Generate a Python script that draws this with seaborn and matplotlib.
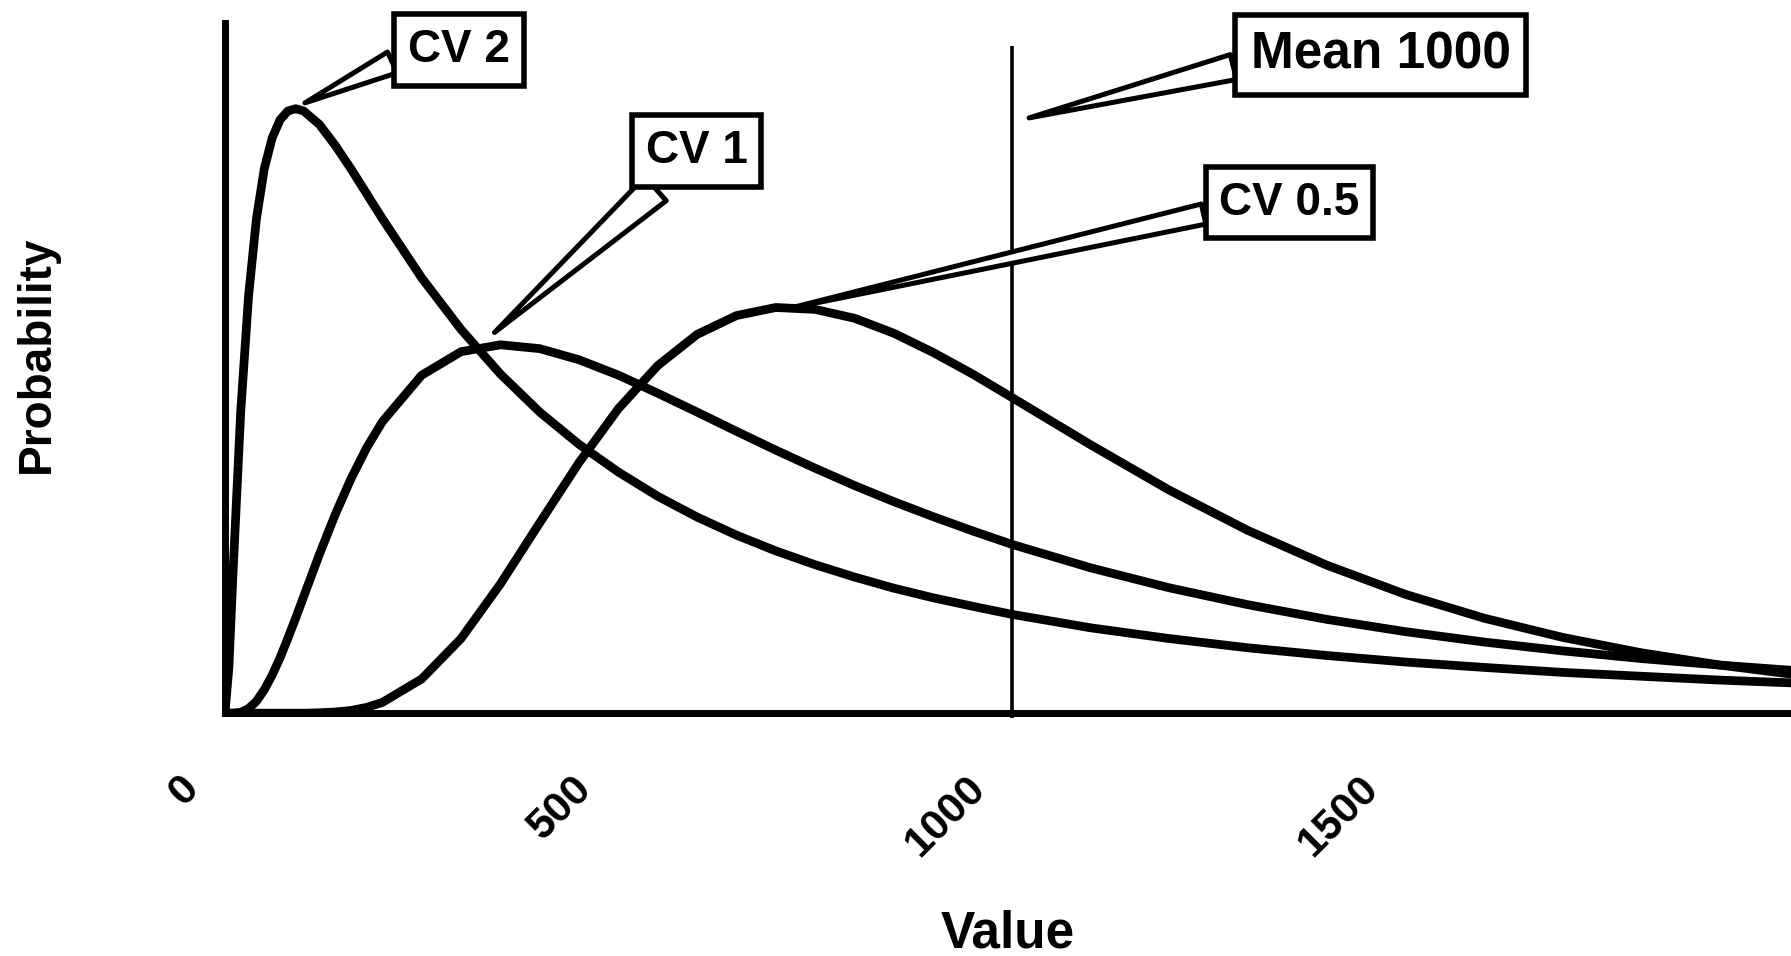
import matplotlib
matplotlib.use('Agg')
import pandas as pd
import matplotlib.pyplot as plt
import seaborn as sns
from matplotlib.transforms import ScaledTranslation

# Estilo
sns.set_theme(style='white')
plt.rcParams['font.family'] = ['Liberation Sans', 'DejaVu Sans']
plt.rcParams['font.weight'] = 'bold'
plt.rcParams['text.color'] = 'black'
plt.rcParams['axes.labelcolor'] = 'black'
plt.rcParams['xtick.color'] = 'black'

# Datos (probabilidad x 1e4)
values = [0, 5, 10, 20, 30, 40, 50, 60, 70, 80, 90, 100, 120, 140, 160, 180, 200,
          250, 300, 350, 400, 450, 500, 550, 600, 650, 700, 750, 800, 850, 900, 950,
          1000, 1100, 1200, 1300, 1400, 1500, 1600, 1700, 1800, 1900, 2000]
cv2 = [0, 1.19, 3.54, 7.83, 10.85, 12.86, 14.16, 14.96, 15.43, 15.66, 15.72, 15.66,
       15.31, 14.77, 14.16, 13.51, 12.86, 11.32, 9.98, 8.82, 7.83, 6.99, 6.27, 5.64,
       5.10, 4.63, 4.22, 3.86, 3.54, 3.25, 3.00, 2.78, 2.57, 2.22, 1.94, 1.70, 1.50,
       1.33, 1.19, 1.06, 0.96, 0.86, 0.78]
cv1 = [0, 0, 0, 0.02, 0.12, 0.31, 0.61, 0.99, 1.44, 1.95, 2.48, 3.03, 4.13, 5.16,
       6.09, 6.90, 7.58, 8.79, 9.40, 9.58, 9.48, 9.19, 8.79, 8.32, 7.83, 7.33, 6.84,
       6.37, 5.92, 5.50, 5.11, 4.74, 4.39, 3.78, 3.26, 2.82, 2.44, 2.12, 1.85, 1.62,
       1.42, 1.25, 1.10]
cv05 = [0, 0, 0, 0, 0, 0, 0, 0, 0, 0, 0, 0.00, 0.01, 0.03, 0.07, 0.15, 0.28, 0.89,
        1.94, 3.36, 4.95, 6.52, 7.92, 9.04, 9.85, 10.34, 10.55, 10.50, 10.27, 9.88,
        9.38, 8.82, 8.21, 6.98, 5.80, 4.75, 3.85, 3.09, 2.47, 1.97, 1.57, 1.25, 0.99]
cv_names = ['CV 2', 'CV 1', 'CV 0.5']
mean_value = 1000
tick_values = [0, 500, 1000, 1500]

n = len(values)
df = pd.DataFrame({
    'Value': values * 3,
    'Probability': cv2 + cv1 + cv05,
    'CV': [cv_names[0]] * n + [cv_names[1]] * n + [cv_names[2]] * n,
})

fig = plt.figure(figsize=(17.91, 9.56), dpi=100)
ax = fig.add_axes([0.1256, 0.254, 0.8744, 0.722])

sns.lineplot(data=df, x='Value', y='Probability', hue='CV', hue_order=cv_names,
             palette=['black'] * 3, linewidth=6.3, legend=False, ax=ax,
             estimator=None, sort=False)

# Linea de la media
ax.vlines(mean_value, -0.12, 17.36, colors='black', linewidth=2.6, clip_on=False)

ax.set_xlim(0, 1990)
ax.set_ylim(0, 17.95)
ax.set_yticks([])
ax.set_xticks(tick_values)
ax.set_xticklabels([str(v) for v in tick_values])
ax.tick_params(axis='x', length=0, pad=50, labelsize=31, labelcolor='black')

for side in ['top', 'right']:
    ax.spines[side].set_visible(False)
for side in ['left', 'bottom']:
    ax.spines[side].set_linewidth(5)
    ax.spines[side].set_color('black')

ax.set_xlabel('Value', fontsize=37, fontweight='bold', color='black')
ax.set_ylabel('Probability', fontsize=33, fontweight='bold', color='black')
ax.xaxis.set_label_coords(0.5, -0.285)
ax.yaxis.set_label_coords(-0.106, 0.52)

# Cajas de texto con flecha tipo cuña
def callout(text, xy, xytext, relpos, tail, size=33):
    box = dict(boxstyle='square,pad=0.3', fc='white', ec='black', lw=4)
    ax.annotate(text, xy=xy, xytext=xytext, ha='center', va='center',
                fontsize=size, fontweight='bold', color='black', bbox=box,
                arrowprops=dict(arrowstyle=f'wedge,tail_width={tail}',
                                fc='white', ec='black', lw=3.6,
                                relpos=relpos, shrinkA=0, shrinkB=0))

callout('CV 2', (101.6, 15.87), (297.5, 17.24), (0, 0.39), 0.5)
callout('CV 1', (342.5, 9.90), (599.4, 14.62), (0.27, 0), 0.7)
callout('Mean 1000', (1021.8, 15.48), (1468.8, 17.12), (0, 0.34), 0.5, size=37)
callout('CV 0.5', (715.5, 10.52), (1352.7, 13.28), (0, 0.32), 0.45)

fig.canvas.draw()
for lbl in ax.get_xticklabels():
    lbl.set_rotation(45)
    lbl.set_ha('right')
    lbl.set_va('center')
    lbl.set_rotation_mode('anchor')
    lbl.set_transform(lbl.get_transform() + ScaledTranslation(-0.33, 0, fig.dpi_scale_trans))

plt.savefig('out.png', dpi=100)
plt.close()
